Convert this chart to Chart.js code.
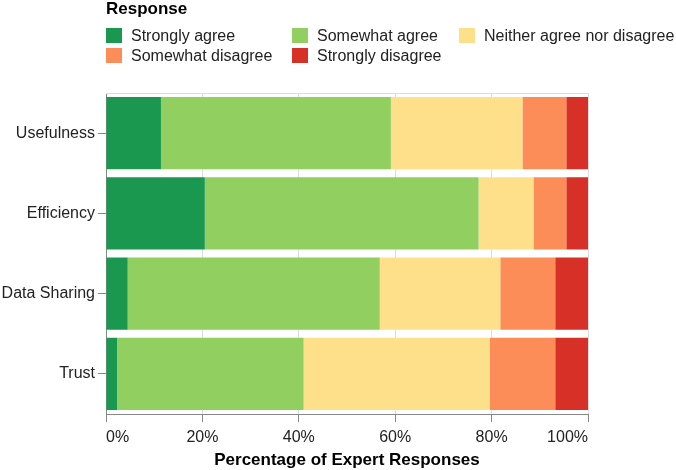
<!DOCTYPE html>
<html>
<head>
<meta charset="utf-8">
<script src="https://cdn.jsdelivr.net/npm/chart.js@4.4.1/dist/chart.umd.min.js"></script>
<style>
  html, body { margin: 0; padding: 0; background: #fff; }
  #wrap { position: relative; width: 676px; height: 470px; font-family: "Liberation Sans", Arial, sans-serif; }
  #chart { position: absolute; left: 0; top: 0; }
  .legend-title { position: absolute; left: 106px; top: -1px; font-size: 17px; font-weight: bold; line-height: 20px; color: #000; }
  .legend-item { position: absolute; display: flex; align-items: center; height: 20px; font-size: 16px; line-height: 20px; color: #222; white-space: nowrap; }
  .legend-item span.sw { display: inline-block; width: 16px; height: 15px; margin-right: 9px; }
</style>
</head>
<body>
<div id="wrap">
  <canvas id="chart" width="676" height="470"></canvas>
  <div class="legend-title">Response</div>
  <div id="legend"></div>
</div>
<script>
// Data (percent of expert responses)
const categories = ['Usefulness', 'Efficiency', 'Data Sharing', 'Trust'];
const responses = ['Strongly agree', 'Somewhat agree', 'Neither agree nor disagree', 'Somewhat disagree', 'Strongly disagree'];
const stronglyAgree = [11.4, 20.5, 4.5, 2.3];
const somewhatAgree = [47.7, 56.8, 52.3, 38.7];
const neitherAgree = [27.3, 11.4, 25.0, 38.6];
const somewhatDisagree = [9.1, 6.8, 11.4, 13.6];
const stronglyDisagree = [4.5, 4.5, 6.8, 6.8];
const xTicks = [0, 20, 40, 60, 80, 100];

const colors = ['#1a9850', '#91cf60', '#fee08b', '#fc8d59', '#d73027'];
const seriesValues = [stronglyAgree, somewhatAgree, neitherAgree, somewhatDisagree, stronglyDisagree];

// legend (html, laid out in 3 columns like the original)
const legendPos = [
    { left: 106, top: 25.7 },
    { left: 292, top: 25.7 },
    { left: 459, top: 25.7 },
    { left: 106, top: 45.7 },
    { left: 292, top: 45.7 }
];
const legendEl = document.getElementById('legend');
responses.forEach((name, i) => {
    const item = document.createElement('div');
    item.className = 'legend-item';
    item.style.left = legendPos[i].left + 'px';
    item.style.top = legendPos[i].top + 'px';
    item.innerHTML = `<span class="sw" style="background:${colors[i]}"></span>${name}`;
    legendEl.appendChild(item);
});

// thin light line across the top of the plot
const topLine = {
    id: 'topLine',
    beforeDatasetsDraw(chart) {
        const { ctx, chartArea } = chart;
        ctx.save();
        ctx.strokeStyle = '#dddddd';
        ctx.lineWidth = 1;
        ctx.beginPath();
        ctx.moveTo(chartArea.left, Math.round(chartArea.top) + 0.5);
        ctx.lineTo(chartArea.right, Math.round(chartArea.top) + 0.5);
        ctx.stroke();
        ctx.restore();
    }
};

Chart.defaults.font.family = '"Liberation Sans", Arial, sans-serif';

new Chart(document.getElementById('chart'), {
    type: 'bar',
    data: {
        labels: categories,
        datasets: responses.map((name, i) => ({
            label: name,
            data: seriesValues[i],
            backgroundColor: colors[i],
            borderWidth: 0,
            barPercentage: 0.9,
            categoryPercentage: 1
        }))
    },
    options: {
        indexAxis: 'y',
        responsive: false,
        animation: false,
        layout: { padding: { top: 93, right: 88, left: 0, bottom: 0 } },
        plugins: {
            legend: { display: false },
            tooltip: { enabled: false }
        },
        scales: {
            x: {
                stacked: true,
                min: 0,
                max: 100,
                afterFit: (scale) => { scale.height = 56; },
                ticks: {
                    stepSize: 10,
                    align: 'inner',
                    padding: 6,
                    color: '#222',
                    font: { size: 16 },
                    maxRotation: 0,
                    callback: (v) => xTicks.includes(v) ? v + '%' : null
                },
                grid: { color: '#dddddd', tickColor: '#888', tickLength: 8 },
                border: { color: '#888' },
                title: {
                    display: true,
                    text: 'Percentage of Expert Responses',
                    color: '#000',
                    font: { size: 17, weight: 'bold' },
                    padding: { top: 0, bottom: -1 }
                }
            },
            y: {
                stacked: true,
                afterFit: (scale) => { scale.width = 106; },
                ticks: { color: '#222', font: { size: 16 }, padding: 3 },
                grid: { drawOnChartArea: false, offset: false, tickColor: '#888', tickLength: 8 },
                border: { color: '#888' }
            }
        }
    },
    plugins: [topLine]
});
</script>
</body>
</html>
